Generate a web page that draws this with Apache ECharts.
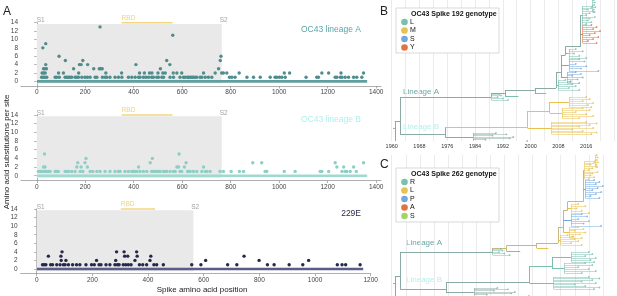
<!DOCTYPE html>
<html>
<head>
<meta charset="utf-8">
<script src="https://cdn.jsdelivr.net/npm/echarts@6/dist/echarts.min.js"></script>
<style>
html,body{margin:0;padding:0;background:#fff}
#main{width:617px;height:296px}
</style>
</head>
<body>
<div id="main"></div>
<script>
// ---- panel A data: sites with 1 substitution, and sites with more ----
var oc43A_single = [20,27,34,41,76,82,93,117,124,131,137,144,158,165,172,186,199,209,220,241,248,271,282,289,302,323,337,351,378,392,406,420,426,440,450,461,474,481,495,502,516,523,550,564,591,605,612,622,626,633,640,646,653,660,674,681,695,708,722,795,805,818,867,894,922,963,983,990,1001,1011,1025,1111,1155,1162,1231,1238,1252,1259,1272,1286,1307,1320,1341];
var oc43A_multiPos = [22,25,28,28,33,35,37,37,40,90,92,110,118,152,173,176,183,190,210,235,258,261,264,270,285,350,409,424,444,465,475,500,510,520,530,536,549,561,563,578,598,688,736,750,757,760,763,770,784,835,1021,1043,1176,1204,1255,1348];
var oc43A_multiSub = [2,8,2,3,3,2,9,4,3,2,6,2,5,3,2,4,4,5,4,3,3,13,3,3,2,2,4,2,2,2,2,2,3,2,2,5,4,11,2,2,2,2,2,3,5,6,2,2,2,2,2,2,2,2,2,2];

var oc43B_single = [7,14,20,27,34,41,48,55,76,82,89,117,124,131,144,158,179,190,220,231,248,261,282,302,323,337,344,364,378,392,399,406,413,426,440,454,474,481,488,495,502,509,523,529,536,550,564,571,591,598,622,626,633,646,660,681,695,702,715,756,770,802,836,853,942,949,1021,1066,1169,1176,1204,1259,1272,1279,1293,1318];
var oc43B_multiPos = [28,32,34,165,169,183,199,203,209,420,468,477,578,585,587,609,616,688,891,928,1231,1238,1266,1307,1348];
var oc43B_multiSub = [2,5,2,2,3,2,3,4,2,2,3,4,2,2,5,2,3,2,3,3,3,2,2,2,3];

var e229_single = [21,27,33,50,57,72,84,96,102,114,129,143,155,177,197,207,224,231,249,263,281,290,296,311,320,329,339,369,381,395,421,431,455,557,590,686,719,829,853,907,956,1080,1097,1110,1162];
var e229_multiPos = [42,87,88,91,105,215,284,287,314,316,327,353,359,361,407,410,607,745,799,977];
var e229_multiSub = [3,3,2,4,2,2,2,4,4,3,3,2,4,3,2,3,2,3,2,2];

var spikeLength = [1363, 1363, 1173];
var s1End = [763, 763, 563];
var rbdRange = [[350, 560], [350, 560], [302, 425]];
var panelNames = ['OC43 lineage A', 'OC43 lineage B', '229E'];
var yTicks = [0, 2, 4, 6, 8, 10, 12, 14];
var xTicksOC43 = [0, 200, 400, 600, 800, 1000, 1200, 1400];
var xTicks229E = [0, 200, 400, 600, 800, 1000, 1200];

// ---- panels B/C: one time tree (years, tip row), coloured by two genotypes ----
// stems: [year1,row1,year2,row2, genotype192, genotype262]
var treeStems = [
  [1960.4,128,1960.9,128,'bb','bb'],
  [1960.9,121,1960.9,141,'bb','bb'],
  [1960.9,141,1967.8,141,'bb','bb'],
  [1960.9,121,1962.4,121,'bb','bb'],
  [1962.4,97,1962.4,134,'bb','bb'],
  [1962.4,97,1988.7,97,'bb','bb'],
  [1988.7,93,1988.7,97,'bb','tan'],
  [1988.7,93,1992.6,93,'bb','tan'],
  [1992.6,90.5,1992.6,96,'bb','tan'],
  [1992.6,96,1996.5,96,'L','R'],
  [1992.6,90.5,2001.2,90.5,'bb','tan'],
  [2001.2,88,2001.2,93,'bb','tan'],
  [2001.2,93,2004.5,93,'L','L'],
  [2001.2,88,2007.3,88,'bb','tan'],
  [2007.3,72,2007.3,88,'bb','tan'],
  [2007.3,85,2008,85,'L','L'],
  [2007.3,72,2008.7,72,'bb','tan'],
  [2008.7,55,2008.7,77.5,'bb','tan'],
  [2008.7,77.5,2010.5,77.5,'S','L'],
  [2008.7,65,2011,65,'S','P'],
  [2008.7,55,2010,55,'bb','tan'],
  [2010,46.7,2010,55,'bb','tan'],
  [2010,53.5,2011,53.5,'L','L'],
  [2010,46.7,2014.4,46.7,'bb','tan'],
  [2014.4,15,2014.4,46.7,'bb','tan'],
  [2014.4,34,2015,34,'Y','P'],
  [2014.4,15,2014.8,15,'L','L'],
  [1962.4,134,1975.4,134,'bb','bb'],
  [1975.4,127,1975.4,137,'bb','bb'],
  [1975.4,137,1983.4,137,'bb','bb'],
  [1975.4,127,1999.1,127,'tan','bb'],
  [1999.1,111,1999.1,128,'M','R'],
  [1999.1,128,2006,128,'M','R'],
  [1999.1,111,2005.5,111,'M','R'],
  [2005.5,102,2005.5,113,'M','R'],
  [2005.5,113,2009,113,'M','R'],
  [2005.5,102,2011,102,'M','R']
];
var cladeNode   = [1988.7, 2008, 2010.5, 2011, 2011, 2015, 2014.8, 2017.8, 1983.4, 2006, 2009, 2011];
var cladeTop    = [94, 80, 72, 59, 49, 25, 6, 0, 133, 122, 108, 97];
var cladeBottom = [100, 90, 83, 71, 58, 43, 24, 12, 141, 134, 118, 107];
var clade192    = ['L','L','S','S','L','Y','L','L','bb','M','M','M'];
var clade262    = ['R','L','L','P','L','P','L','L','bb','R','R','R'];
var cladeTips = [
  [1991,1991.5,1990.5,1992,1993.5],
  [2010,2011.5,2012,2013,2011,2014],
  [2013,2014.5,2012,2015,2013.5,2011.5,2014],
  [2014,2015.5,2013,2016,2014.5,2019.5],
  [2013,2015,2012.5,2014,2016],
  [2017.5,2019,2018,2020,2018.5,2017,2019.5,2018,2016.5,2019],
  [2017.8,2017.5,2016.5,2018,2017,2016,2018.5,2017,2016.5,2017.5,2016],
  [2018.2,2018.5,2018.3,2018.6,2018.2,2018.4],
  [1990,1993,1989,1995,1994,1987,1999],
  [2016,2019,2017,2014,2018,2012,2015,2019,2017.5],
  [2015,2017,2013,2016,2018,2014],
  [2016,2017,2015,2018,2016.5,2017.5]
];
var legend192 = ['L','M','S','Y'];
var legend262 = ['R','L','P','A','S'];

var pal192 = {bb:'#8aaaa5', tan:'#cdc29b', L:'#79c0ae', M:'#e8c14f', S:'#72a8de', Y:'#e4733b'};
var pal262 = {bb:'#8aaaa5', tan:'#c8b780', R:'#79c0ae', L:'#e8c14f', P:'#72a8de', A:'#e4733b', S:'#a3d46c'};

var FONT = 'Liberation Sans, Arial, sans-serif';
var pointColor = ['#4f8c8c', '#8ccfc5', '#25284a'];
var zeroColor = ['#5f9fa0', '#9fd9d1', '#5a5d88'];
var titleColor = ['#5aa5a5', '#b2eeee', '#2a2d50'];

var chart = echarts.init(document.getElementById('main'));

function merge(single, mpos, msub) {
  var out = single.map(function (p) { return [p, 1]; });
  mpos.forEach(function (p, i) { out.push([p, msub[i]]); });
  return out;
}
var panelPoints = [
  merge(oc43A_single, oc43A_multiPos, oc43A_multiSub),
  merge(oc43B_single, oc43B_multiPos, oc43B_multiSub),
  merge(e229_single, e229_multiPos, e229_multiSub)
];

var grids = [
  {left: 21, top: 22.7, width: 360, height: 63.3},
  {left: 21, top: 115, width: 360, height: 65.5},
  {left: 20.7, top: 209, width: 350, height: 64.7},
  {left: 391.7, top: 0, width: 225.5, height: 141},
  {left: 391.7, top: 155, width: 225.5, height: 141}
];
var xAxes = [], yAxes = [], series = [];
var axisGray = '#9a9a9a';
function plain(v) { return String(v); }

for (var g = 0; g < 3; g++) {
  var ticks = g < 2 ? xTicksOC43 : xTicks229E;
  xAxes.push({
    gridIndex: g, type: 'value',
    min: g < 2 ? -65 : -57.5, max: g < 2 ? 1420 : 1200,
    axisLine: {show: true, onZero: false, lineStyle: {color: axisGray, width: 0.8}},
    axisTick: {show: true, length: 2.5, customValues: ticks, lineStyle: {color: axisGray, width: 0.8}},
    axisLabel: {customValues: ticks, formatter: plain, fontSize: 6.5, color: '#444', margin: 3, fontFamily: FONT},
    splitLine: {show: false}
  });
  yAxes.push({
    gridIndex: g, type: 'value', min: -1.1, max: 14,
    axisLine: {show: true, lineStyle: {color: axisGray, width: 0.8}},
    axisTick: {show: true, length: 2.5, customValues: yTicks, lineStyle: {color: axisGray, width: 0.8}},
    axisLabel: {customValues: yTicks, formatter: plain, fontSize: 6.5, color: '#444', margin: 3, fontFamily: FONT},
    splitLine: {show: false}
  });
  // S1 shading + zero line
  series.push({
    type: 'line', xAxisIndex: g, yAxisIndex: g, silent: true, symbol: 'none',
    data: [[1, 0], [spikeLength[g], 0]],
    lineStyle: {color: zeroColor[g], width: 2.6},
    markArea: {silent: true, itemStyle: {color: '#e9e9e9'},
      data: [[{coord: [0, -0.5]}, {coord: [s1End[g], 13.7]}]]},
    z: 1
  });
  // RBD bar
  series.push({
    type: 'line', xAxisIndex: g, yAxisIndex: g, silent: true, symbol: 'none',
    data: [[rbdRange[g][0], 14], [rbdRange[g][1], 14]],
    lineStyle: {color: '#f3d680', width: 1.4}, clip: false
  });
  series.push({
    type: 'scatter', xAxisIndex: g, yAxisIndex: g, silent: true,
    symbolSize: 3.4, itemStyle: {color: pointColor[g], opacity: 1},
    data: panelPoints[g], z: 3
  });
  // region labels
  series.push({
    type: 'scatter', xAxisIndex: g, yAxisIndex: g, silent: true, symbolSize: 0,
    label: {show: true, position: 'right', distance: 0, fontSize: 6.5, fontFamily: FONT, color: '#8a8a8a', offset: [0, -2]},
    data: [
      {value: [0, 14], label: {formatter: 'S1'}},
      {value: [s1End[g] - 8, 14], label: {formatter: 'S2'}},
      {value: [rbdRange[g][0], 14], label: {formatter: 'RBD', color: '#efc65c', offset: [0, -4.5]}}
    ]
  });
}

function yearLabel(v) { return ((v - 1960) % 8 === 0 && v <= 2016) ? String(v) : ''; }

function treeSeries(gi, pal, useC) {
  var segs = [], tips = [];
  treeStems.forEach(function (s) {
    segs.push({coords: [[s[0], s[1]], [s[2], s[3]]], lineStyle: {color: pal[useC ? s[5] : s[4]], width: 1.0}});
  });
  cladeNode.forEach(function (x, k) {
    var t = cladeTips[k], r0 = cladeTop[k], r1 = cladeBottom[k];
    var col = pal[useC ? clade262[k] : clade192[k]];
    segs.push({coords: [[x, r0], [x, r1]], lineStyle: {color: col, width: 0.6}});
    t.forEach(function (yr, i) {
      var r = r0 + i * (r1 - r0) / (t.length - 1);
      segs.push({coords: [[x, r], [yr, r]], lineStyle: {color: col, width: 0.5}});
      tips.push({value: [yr, r], itemStyle: {color: col}});
    });
  });
  return [
    {type: 'lines', coordinateSystem: 'cartesian2d', xAxisIndex: gi, yAxisIndex: gi, polyline: false, silent: true, data: segs, lineStyle: {opacity: 1}, z: 3},
    {type: 'scatter', xAxisIndex: gi, yAxisIndex: gi, silent: true, symbolSize: 1.8, data: tips, z: 4}
  ];
}

for (var t = 3; t < 5; t++) {
  xAxes.push({
    gridIndex: t, type: 'value', min: 1960, max: 2024, interval: 4,
    axisLine: {show: false}, axisTick: {show: false},
    axisLabel: {show: t === 3, formatter: yearLabel, fontSize: 5.5, color: '#333', margin: 2, fontFamily: FONT},
    splitLine: {show: true, lineStyle: {color: '#e6e6e6', width: 0.8}}
  });
  yAxes.push({gridIndex: t, type: 'value', min: 0, max: 141, inverse: true, show: false});
}
series = series.concat(treeSeries(3, pal192, false), treeSeries(4, pal262, true));

// graphic overlays: panel letters, titles, legends
var graphics = [
  {type: 'text', x: 3, y: 12, style: {text: 'A', fontSize: 12, fontFamily: FONT, fill: '#222', verticalAlign: 'middle'}},
  {type: 'text', x: 380, y: 12, style: {text: 'B', fontSize: 12, fontFamily: FONT, fill: '#222', verticalAlign: 'middle'}},
  {type: 'text', x: 380, y: 165, style: {text: 'C', fontSize: 12, fontFamily: FONT, fill: '#222', verticalAlign: 'middle'}},
  {type: 'text', x: 7, y: 152, rotation: Math.PI / 2, style: {text: 'Amino acid substitutions per site', fontSize: 8, fontFamily: FONT, fill: '#222', align: 'center', verticalAlign: 'middle'}},
  {type: 'text', x: 202, y: 290, style: {text: 'Spike amino acid position', fontSize: 8, fontFamily: FONT, fill: '#222', align: 'center', verticalAlign: 'middle'}},
  {type: 'text', x: 361, y: 30, style: {text: panelNames[0], fontSize: 8.5, fontFamily: FONT, fill: titleColor[0], align: 'right', verticalAlign: 'middle'}},
  {type: 'text', x: 361, y: 120, style: {text: panelNames[1], fontSize: 8.5, fontFamily: FONT, fill: titleColor[1], align: 'right', verticalAlign: 'middle'}},
  {type: 'text', x: 361, y: 214, style: {text: panelNames[2], fontSize: 8.5, fontFamily: FONT, fill: titleColor[2], align: 'right', verticalAlign: 'middle'}},
  {type: 'text', x: 403, y: 92, style: {text: 'Lineage A', fontSize: 8, fontFamily: FONT, fill: '#6aa8a8', verticalAlign: 'middle'}},
  {type: 'text', x: 403, y: 127, style: {text: 'Lineage B', fontSize: 8, fontFamily: FONT, fill: '#b6efee', verticalAlign: 'middle'}},
  {type: 'text', x: 406, y: 243, style: {text: 'Lineage A', fontSize: 8, fontFamily: FONT, fill: '#6aa8a8', verticalAlign: 'middle'}},
  {type: 'text', x: 406, y: 280, style: {text: 'Lineage B', fontSize: 8, fontFamily: FONT, fill: '#b6efee', verticalAlign: 'middle'}}
];

function addLegend(top, height, title, keys, pal) {
  graphics.push({type: 'rect', z: 50, shape: {x: 396, y: top, width: 103, height: height}, style: {fill: '#fff', stroke: '#cfcfcf', lineWidth: 0.8}});
  graphics.push({type: 'text', z: 51, x: 411, y: top + 6, style: {text: title, fontSize: 7, fontWeight: 'bold', fontFamily: FONT, fill: '#111', verticalAlign: 'middle'}});
  keys.forEach(function (k, i) {
    var cy = top + 14 + i * 8.5;
    graphics.push({type: 'circle', z: 51, shape: {cx: 404.5, cy: cy, r: 3.3}, style: {fill: pal[k]}});
    graphics.push({type: 'text', z: 51, x: 410, y: cy, style: {text: k, fontSize: 7, fontFamily: FONT, fill: '#111', verticalAlign: 'middle'}});
  });
}
addLegend(8, 45, 'OC43 Spike 192 genotype', legend192, pal192);
addLegend(168, 54, 'OC43 Spike 262 genotype', legend262, pal262);

chart.setOption({
  animation: false,
  backgroundColor: '#fff',
  grid: grids,
  xAxis: xAxes,
  yAxis: yAxes,
  series: series,
  graphic: graphics
});
</script>
</body>
</html>
